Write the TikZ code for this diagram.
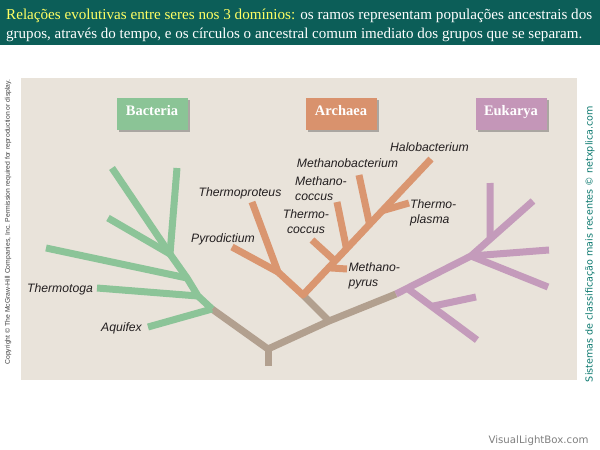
\documentclass[tikz,border=0pt]{standalone}
\usepackage{fontspec}
\setmainfont{Liberation Serif}
\setsansfont{Liberation Sans}
\newfontfamily\dejavu{DejaVu Sans}
\usetikzlibrary{calc,shadows}
\definecolor{hdr}{RGB}{12,94,88}
\definecolor{hdryel}{RGB}{255,255,100}
\definecolor{panel}{RGB}{233,227,218}
\definecolor{gr}{RGB}{140,196,152}
\definecolor{org}{RGB}{218,150,112}
\definecolor{pur}{RGB}{196,155,187}
\definecolor{brn}{RGB}{178,160,143}
\definecolor{grbox}{RGB}{139,196,150}
\definecolor{orbox}{RGB}{217,146,109}
\definecolor{pubox}{RGB}{196,150,184}
\definecolor{lbltext}{RGB}{35,31,32}
\definecolor{sidetxt}{RGB}{10,120,110}
\begin{document}
\begin{tikzpicture}[x=1pt,y=-1pt,
  tree/.style={line width=7pt,line cap=butt,line join=round},
  lbl/.style={font=\sffamily\itshape\fontsize{12.2}{15}\selectfont,text=lbltext,inner sep=0pt},
  lbltwo/.style={lbl,align=left,anchor=north west},
  dom/.style={minimum width=71pt,minimum height=32pt,inner sep=0pt,
    text height=9.8pt,text depth=5.8pt,
    font=\bfseries\fontsize{14.5}{16}\selectfont,text=white,
    drop shadow={shadow xshift=2pt,shadow yshift=-2pt,opacity=0.4,fill=black!70}}]
\useasboundingbox (0,0) rectangle (600,450);
\fill[white] (0,0) rectangle (600,450);
% header
\fill[hdr] (0,0) rectangle (600,45);
\node[anchor=base west,inner sep=0pt,text=white] (h1) at (6,19)
  {\resizebox{586pt}{!}{\textcolor{hdryel}{Relações evolutivas entre seres nos 3 domínios:} os ramos representam populações ancestrais dos}};
\node[anchor=base west,inner sep=0pt,text=white] (h2) at (6,38)
  {\resizebox{576pt}{!}{grupos, através do tempo, e os círculos o ancestral comum imediato dos grupos que se separam.}};
% panel
\fill[panel] (21,78) rectangle (577,380);
% side texts
\node[rotate=90,inner sep=0pt,text=black!75] (copyr) at (8,222)
  {\resizebox{285pt}{!}{\sffamily Copyright © The McGraw-Hill Companies, Inc. Permission required for reproduction or display.}};
\node[rotate=90,inner sep=0pt,text=sidetxt] (side) at (590,244)
  {\resizebox{276pt}{!}{\dejavu Sistemas de classificação mais recentes © netxplica.com}};
\node[inner sep=0pt,text=black!50] (vlb) at (538.5,441)
  {\resizebox{100pt}{!}{\dejavu VisualLightBox.com}};
% domain boxes
\node[dom,fill=grbox] (bact) at (152,113.5) {Bacteria};
\node[dom,fill=orbox] (arch) at (341,113.5) {Archaea};
\node[dom,fill=pubox] (euk) at (511,113.5) {Eukarya};
% tree coordinates
\coordinate (R0) at (268,366);
\coordinate (R) at (268,349);
\coordinate (GT) at (212,309);
\coordinate (AJ) at (329,321);
\coordinate (OB) at (303,295);
\coordinate (PB) at (396,294);
% green
\coordinate (G0) at (170,254);
\coordinate (G1) at (187,278);
\coordinate (G2) at (198,296);
\coordinate (gb1) at (112,168);
\coordinate (gb2) at (177,168);
\coordinate (gb3) at (108,218);
\coordinate (gb4) at (46,248);
\coordinate (gthm) at (97,288);
\coordinate (gaq) at (148,327);
% orange
\coordinate (OJ) at (278,272);
\coordinate (H) at (431,159);
\coordinate (otp) at (252,202);
\coordinate (opy) at (232,247);
\coordinate (omp) at (347,269);
\coordinate (otc) at (312,240);
\coordinate (omc) at (337,202);
\coordinate (omb) at (359,175);
\coordinate (otpl) at (409,203);
% purple
\coordinate (PJ) at (471,256);
\coordinate (PT) at (533,201);
\coordinate (pv) at (490,183);
\coordinate (pr) at (549,250);
\coordinate (pd) at (548,287);
\coordinate (L0) at ($(PB)!0.15!(PJ)$);
\coordinate (L1) at (477,340);
\coordinate (ls) at (476,297);
% brown
\draw[tree,brn] (GT) -- (R) -- (AJ) -- (PB);
\draw[tree,brn] (R0) -- (R);
\draw[tree,brn] (AJ) -- (OB);
% green tree
\draw[tree,gr] (G0) -- (G1) -- (G2) -- (GT);
\draw[tree,gr] (gb1) -- (G0);
\draw[tree,gr] (gb2) -- (G0);
\draw[tree,gr] (gb3) -- (G0);
\draw[tree,gr] (gb4) -- (G1);
\draw[tree,gr] (gthm) -- (G2);
\draw[tree,gr] (gaq) -- (GT);
% orange tree
\draw[tree,org] (otp) -- (OJ) -- (OB) -- (H);
\draw[tree,org] (opy) -- (OJ);
\draw[tree,org] ($(OB)!0.20!(H)$) -- (omp);
\draw[tree,org] (otc) -- ($(OB)!0.25!(H)$);
\draw[tree,org] (omc) -- ($(OB)!0.34!(H)$);
\draw[tree,org] (omb) -- ($(OB)!0.52!(H)$);
\draw[tree,org] ($(OB)!0.62!(H)$) -- (otpl);
% purple tree
\draw[tree,pur] (PB) -- (PJ) -- (PT);
\draw[tree,pur] (pv) -- ($(PJ)!0.31!(PT)$);
\draw[tree,pur] (PJ) -- (pr);
\draw[tree,pur] (PJ) -- (pd);
\draw[tree,pur] (L0) -- (L1);
\draw[tree,pur] ($(L0)!0.35!(L1)$) -- (ls);
% labels
\node[lbl,anchor=base] (lhalo) at (429.5,151.7) {Halobacterium};
\node[lbl,anchor=base] (lmb) at (347.5,167.7) {Methanobacterium};
\node[lbl,anchor=base] (ltp) at (240,196) {Thermoproteus};
\node[lbl,anchor=base] (lpy) at (223,242) {Pyrodictium};
\node[lbl,anchor=base] (lthm) at (60,292.5) {Thermotoga};
\node[lbl,anchor=base] (laq) at (121.5,331) {Aquifex};
\node[lbltwo] (lmc) at (295,176.5) {Methano-\\coccus};
\node[lbl,align=center,anchor=north] (ltc) at (306,209) {Thermo-\\coccus};
\node[lbltwo] (ltpl) at (410,199) {Thermo-\\plasma};
\node[lbltwo] (lmp) at (348.3,262.8) {Methano-\\pyrus};
\end{tikzpicture}
\end{document}
